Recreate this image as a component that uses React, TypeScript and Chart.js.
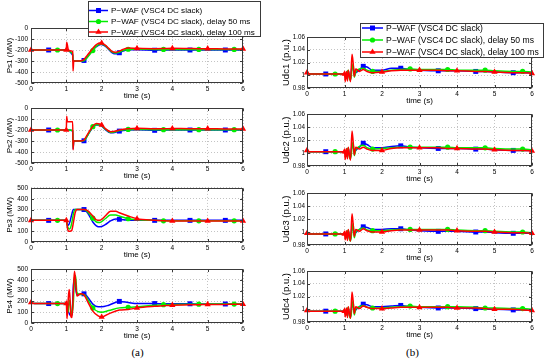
import React, { useEffect, useRef } from 'react';
import { Chart, registerables } from 'chart.js';
Chart.register(...registerables);

const FONT = "'Liberation Sans', Arial, Helvetica, sans-serif";

const SERIES_NAMES = [
  'P\u2212WAF (VSC4 DC slack)',
  'P\u2212WAF (VSC4 DC slack), delay 50 ms',
  'P\u2212WAF (VSC4 DC slack), delay 100 ms',
];
const COLORS = ['#0000ff', '#00ee00', '#ff0000'];
const MARKER_STYLES = ['rect', 'circle', 'triangle'];
const MARKER_RADII = [3.5, 2.6, 3.6];
const BLUE_MARKS = [0.5, 1.5, 2.5, 3.5, 4.5, 5.5];
const GREEN_MARKS = [0.75, 1.75, 2.75, 3.75, 4.75, 5.75];
const RED_MARKS = [0, 1, 2, 3, 4, 5, 6];
const MARK_TIMES = [BLUE_MARKS, GREEN_MARKS, RED_MARKS];

const X_TICKS = [0, 1, 2, 3, 4, 5, 6];
const PS_NEG_TICKS = [-500, -400, -300, -200, -100, 0];
const PS_POS_TICKS = [0, 100, 200, 300, 400, 500];
const UDC_TICKS = [0.98, 1.0, 1.02, 1.04, 1.06];

// ---- Ps1 ----
const PS1_T = [0, 0.5, 0.75, 1.0, 1.01, 1.05, 1.1, 1.15, 1.18, 1.19, 1.21, 1.3, 1.45, 1.5, 1.6, 1.75, 1.85, 1.97, 2.0, 2.1, 2.2, 2.3, 2.4, 2.5, 2.6, 2.75, 3.0, 3.5, 3.75, 4.0, 4.5, 4.75, 5.0, 5.5, 5.75, 6.0];
const PS1_BLUE = [-200, -200, -200, -200, -200, -205, -215, -235, -250, -300, -300, -300, -300, -295, -260, -200, -170, -150, -150, -165, -195, -225, -235, -225, -210, -198, -198, -202, -200, -200, -200, -200, -200, -200, -200, -200];
const PS1_GREEN = [-200, -200, -200, -200, -200, -203, -212, -225, -240, -300, -300, -300, -300, -298, -265, -205, -165, -145, -147, -160, -190, -220, -228, -220, -205, -193, -193, -195, -195, -195, -195, -195, -195, -195, -195, -195];
const PS1_RED = [-200, -200, -200, -200, -130, -190, -205, -210, -215, -390, -300, -300, -295, -285, -245, -185, -150, -135, -137, -155, -185, -215, -220, -210, -195, -182, -185, -188, -187, -185, -187, -188, -188, -190, -190, -190];

// ---- Ps2 ----
const PS2_T = [0, 0.5, 0.75, 1.0, 1.01, 1.03, 1.1, 1.15, 1.18, 1.19, 1.21, 1.3, 1.45, 1.5, 1.6, 1.75, 1.85, 1.95, 2.0, 2.1, 2.25, 2.4, 2.5, 2.75, 3.0, 3.5, 3.75, 4.0, 4.5, 4.75, 5.0, 5.5, 5.75, 6.0];
const PS2_BLUE = [-200, -200, -200, -200, -200, -200, -200, -205, -215, -370, -300, -300, -300, -298, -250, -175, -155, -155, -165, -195, -225, -220, -210, -200, -198, -203, -200, -200, -200, -200, -200, -200, -200, -200];
const PS2_GREEN = [-200, -200, -200, -200, -200, -200, -200, -203, -210, -360, -300, -300, -300, -297, -250, -170, -152, -152, -160, -190, -222, -215, -205, -195, -195, -197, -197, -197, -197, -197, -197, -197, -197, -197];
const PS2_RED = [-200, -200, -200, -200, -75, -125, -125, -125, -125, -380, -300, -300, -298, -290, -240, -165, -142, -145, -155, -185, -215, -210, -200, -188, -185, -188, -188, -187, -188, -188, -188, -190, -190, -190];

// ---- Ps3 ----
const PS3_T = [0, 0.5, 0.75, 1.0, 1.03, 1.06, 1.1, 1.15, 1.2, 1.25, 1.3, 1.4, 1.5, 1.6, 1.75, 1.85, 1.95, 2.1, 2.25, 2.4, 2.5, 2.75, 3.0, 3.5, 3.75, 4.0, 4.5, 4.75, 5.0, 5.5, 5.75, 6.0];
const PS3_BLUE = [200, 200, 200, 200, 165, 155, 185, 250, 300, 300, 300, 300, 300, 270, 185, 150, 140, 160, 195, 212, 210, 202, 200, 200, 200, 200, 200, 200, 200, 200, 200, 200];
const PS3_GREEN = [200, 200, 200, 200, 150, 125, 120, 170, 260, 300, 300, 300, 300, 280, 220, 185, 180, 215, 250, 250, 240, 215, 205, 200, 196, 196, 196, 196, 196, 196, 196, 196];
const PS3_RED = [200, 200, 200, 200, 130, 100, 100, 105, 180, 270, 300, 300, 300, 290, 240, 205, 200, 240, 285, 285, 270, 240, 215, 200, 196, 194, 194, 194, 194, 194, 194, 194];

// ---- Ps4 ----
const PS4_T = [0, 0.1, 0.5, 0.75, 1.0, 1.02, 1.05, 1.08, 1.1, 1.13, 1.16, 1.2, 1.23, 1.26, 1.3, 1.4, 1.5, 1.6, 1.75, 1.9, 2.0, 2.2, 2.5, 2.75, 3.0, 3.5, 3.75, 4.0, 4.5, 4.75, 5.0, 5.5, 5.75, 6.0];
const PS4_BLUE = [190, 180, 180, 180, 180, 150, 110, 90, 75, 70, 75, 350, 410, 330, 260, 265, 270, 240, 175, 150, 150, 165, 200, 190, 180, 180, 178, 178, 178, 176, 176, 176, 175, 175];
const PS4_GREEN = [190, 180, 180, 180, 180, 130, 100, 200, 210, 120, 80, 200, 420, 440, 280, 265, 265, 220, 140, 105, 100, 115, 140, 145, 150, 165, 170, 172, 174, 174, 175, 175, 175, 175];
const PS4_RED = [190, 180, 180, 180, 180, 40, 200, 310, 250, 60, 50, 300, 480, 400, 250, 270, 260, 200, 110, 65, 55, 85, 120, 125, 140, 155, 160, 165, 170, 170, 172, 172, 173, 173];

// ---- Udc (shared time base) ----
const UDC_T = [0, 0.05, 0.5, 0.75, 1.0, 1.02, 1.05, 1.08, 1.1, 1.13, 1.16, 1.2, 1.23, 1.26, 1.3, 1.4, 1.5, 1.6, 1.75, 2.0, 2.25, 2.5, 2.75, 3.0, 3.5, 3.75, 4.0, 4.5, 4.75, 5.0, 5.5, 5.75, 6.0];
const UDC1_BLUE = [1.004, 1.002, 1.002, 1.002, 1.002, 1.000, 0.997, 1.004, 1.007, 0.997, 0.994, 1.015, 1.013, 1.001, 1.004, 1.008, 1.014, 1.013, 1.008, 1.008, 1.011, 1.011, 1.009, 1.008, 1.007, 1.007, 1.007, 1.006, 1.006, 1.005, 1.004, 1.004, 1.004];
const UDC1_GREEN = [1.004, 1.002, 1.002, 1.002, 1.002, 1.000, 0.996, 1.005, 1.008, 0.995, 0.992, 1.010, 1.018, 0.997, 1.005, 1.010, 1.011, 1.008, 1.006, 1.006, 1.008, 1.009, 1.010, 1.009, 1.009, 1.009, 1.008, 1.008, 1.008, 1.007, 1.006, 1.006, 1.005];
const UDC1_RED = [1.004, 1.002, 1.002, 1.002, 1.002, 0.990, 1.006, 0.991, 1.008, 0.999, 0.990, 1.033, 1.020, 0.998, 1.010, 1.006, 1.009, 1.006, 1.004, 1.005, 1.007, 1.008, 1.008, 1.008, 1.008, 1.007, 1.007, 1.006, 1.006, 1.005, 1.004, 1.004, 1.003];
const UDC2_BLUE = [1.004, 1.002, 1.002, 1.002, 1.002, 1.000, 0.996, 1.005, 1.007, 0.996, 0.993, 1.014, 1.012, 1.001, 1.004, 1.009, 1.015, 1.013, 1.008, 1.008, 1.010, 1.011, 1.009, 1.008, 1.007, 1.007, 1.007, 1.006, 1.006, 1.005, 1.004, 1.004, 1.004];
const UDC2_GREEN = [1.004, 1.002, 1.002, 1.002, 1.002, 1.000, 0.995, 1.005, 1.008, 0.994, 0.991, 1.008, 1.017, 0.996, 1.005, 1.010, 1.012, 1.008, 1.006, 1.007, 1.008, 1.009, 1.009, 1.009, 1.009, 1.009, 1.008, 1.008, 1.008, 1.007, 1.006, 1.006, 1.005];
const UDC2_RED = [1.004, 1.002, 1.002, 1.002, 1.002, 0.990, 1.007, 0.991, 1.009, 0.998, 0.989, 1.034, 1.018, 0.997, 1.009, 1.006, 1.009, 1.006, 1.004, 1.004, 1.007, 1.008, 1.008, 1.008, 1.008, 1.007, 1.007, 1.006, 1.006, 1.005, 1.004, 1.004, 1.003];
const UDC3_BLUE = [0.998, 0.997, 0.997, 0.997, 0.997, 0.996, 0.992, 0.999, 1.002, 0.991, 0.988, 1.008, 1.006, 0.996, 0.999, 1.004, 1.008, 1.007, 1.004, 1.004, 1.005, 1.005, 1.003, 1.002, 1.001, 1.001, 1.001, 1.000, 1.000, 0.999, 0.998, 0.998, 0.998];
const UDC3_GREEN = [0.998, 0.997, 0.997, 0.997, 0.997, 0.996, 0.991, 1.000, 1.003, 0.990, 0.986, 1.003, 1.013, 0.991, 1.000, 1.004, 1.006, 1.003, 1.002, 1.002, 1.003, 1.004, 1.004, 1.004, 1.004, 1.004, 1.003, 1.002, 1.002, 1.001, 1.000, 1.000, 0.999];
const UDC3_RED = [0.998, 0.997, 0.997, 0.997, 0.997, 0.988, 1.002, 0.987, 1.004, 0.994, 0.986, 1.028, 1.013, 0.993, 1.004, 1.001, 1.005, 1.002, 1.000, 1.000, 1.002, 1.003, 1.003, 1.003, 1.003, 1.003, 1.002, 1.001, 1.001, 1.000, 0.999, 0.999, 0.998];
const UDC4_BLUE = [0.998, 0.997, 0.997, 0.997, 0.997, 0.996, 0.992, 0.999, 1.001, 0.991, 0.988, 1.008, 1.006, 0.996, 0.999, 1.004, 1.008, 1.007, 1.004, 1.004, 1.005, 1.006, 1.004, 1.003, 1.002, 1.002, 1.002, 1.001, 1.000, 1.000, 0.999, 0.999, 0.999];
const UDC4_GREEN = [0.998, 0.997, 0.997, 0.997, 0.997, 0.996, 0.991, 1.000, 1.003, 0.990, 0.986, 1.004, 1.013, 0.991, 1.000, 1.004, 1.006, 1.003, 1.002, 1.002, 1.003, 1.004, 1.005, 1.004, 1.004, 1.004, 1.004, 1.003, 1.002, 1.002, 1.001, 1.001, 1.000];
const UDC4_RED = [0.998, 0.997, 0.997, 0.997, 0.997, 0.988, 1.002, 0.987, 1.004, 0.994, 0.986, 1.027, 1.013, 0.993, 1.004, 1.001, 1.005, 1.003, 1.001, 1.001, 1.002, 1.003, 1.003, 1.003, 1.003, 1.003, 1.002, 1.002, 1.001, 1.000, 1.000, 0.999, 0.998];

const X_TITLE = 'time (s)';
const X_AXIS_H = 18;

const LEFT_COL = { left: 0, w: 275, pl: 31, pr: 243, yTitleSize: 8, yTitlePad: 5, yTickPad: 3, yTickSize: 6.5 };
const RIGHT_COL = { left: 275, w: 275, pl: 307, pr: 532, yTitleSize: 9.5, yTitlePad: 5.5, yTickPad: 2, yTickSize: 6.3 };

const LEFT_LEGEND = { x: 88, y: 1, w: 172, h: 35, rows: [9.5, 20.5, 31], lineX0: 1, lineX1: 20, textX: 23, fontSize: 8.1 };
const RIGHT_LEGEND = { x: 85, y: 23, w: 183, h: 34, rows: [5, 17, 29], lineX0: 2, lineX1: 23, textX: 26, fontSize: 8.6 };

type PanelDef = {
  left: number; w: number; pl: number; pr: number; yTitleSize: number; yTitlePad: number; yTickPad: number; yTickSize: number;
  top: number; h: number; pt: number; pb: number;
  T: number[]; series: number[][]; yTicks: number[]; yTitle: string; legend?: any;
};

const PANELS: PanelDef[] = [
  { ...LEFT_COL, top: 0, h: 101, pt: 28, pb: 83, T: PS1_T, series: [PS1_BLUE, PS1_GREEN, PS1_RED], yTicks: PS_NEG_TICKS, yTitle: 'Ps1 (MW)', legend: LEFT_LEGEND },
  { ...LEFT_COL, top: 101, h: 80, pt: 108, pb: 163, T: PS2_T, series: [PS2_BLUE, PS2_GREEN, PS2_RED], yTicks: PS_NEG_TICKS, yTitle: 'Ps2 (MW)' },
  { ...LEFT_COL, top: 181, h: 81, pt: 187, pb: 242, T: PS3_T, series: [PS3_BLUE, PS3_GREEN, PS3_RED], yTicks: PS_POS_TICKS, yTitle: 'Ps3 (MW)' },
  { ...LEFT_COL, top: 262, h: 80, pt: 269, pb: 323, T: PS4_T, series: [PS4_BLUE, PS4_GREEN, PS4_RED], yTicks: PS_POS_TICKS, yTitle: 'Ps4 (MW)' },
  { ...RIGHT_COL, top: 0, h: 106, pt: 37, pb: 88, T: UDC_T, series: [UDC1_BLUE, UDC1_GREEN, UDC1_RED], yTicks: UDC_TICKS, yTitle: 'Udc1 (p.u.)', legend: RIGHT_LEGEND },
  { ...RIGHT_COL, top: 106, h: 79, pt: 114, pb: 166, T: UDC_T, series: [UDC2_BLUE, UDC2_GREEN, UDC2_RED], yTicks: UDC_TICKS, yTitle: 'Udc2 (p.u.)' },
  { ...RIGHT_COL, top: 185, h: 79, pt: 193, pb: 245, T: UDC_T, series: [UDC3_BLUE, UDC3_GREEN, UDC3_RED], yTicks: UDC_TICKS, yTitle: 'Udc3 (p.u.)' },
  { ...RIGHT_COL, top: 264, h: 80, pt: 271, pb: 322, T: UDC_T, series: [UDC4_BLUE, UDC4_GREEN, UDC4_RED], yTicks: UDC_TICKS, yTitle: 'Udc4 (p.u.)' },
];

function drawMarker(ctx: CanvasRenderingContext2D, style: string, x: number, y: number, r: number) {
  ctx.beginPath();
  if (style === 'rect') {
    const s = Math.SQRT1_2 * r;
    ctx.rect(x - s, y - s, 2 * s, 2 * s);
  } else if (style === 'circle') {
    ctx.arc(x, y, r, 0, Math.PI * 2);
  } else {
    let rad = 0;
    ctx.moveTo(x + Math.sin(rad) * r, y - Math.cos(rad) * r);
    rad += (2 * Math.PI) / 3;
    ctx.lineTo(x + Math.sin(rad) * r, y - Math.cos(rad) * r);
    rad += (2 * Math.PI) / 3;
    ctx.lineTo(x + Math.sin(rad) * r, y - Math.cos(rad) * r);
    ctx.closePath();
  }
  ctx.fill();
}

const framePlugin = {
  id: 'frameBox',
  afterDatasetsDraw(chart: any) {
    const { ctx, chartArea: a, scales } = chart;
    ctx.save();
    ctx.strokeStyle = '#3a3a3a';
    ctx.lineWidth = 1;
    const L = Math.round(a.left) + 0.5;
    const R = Math.round(a.right) - 0.5;
    const T = Math.round(a.top) + 0.5;
    const B = Math.round(a.bottom) - 0.5;
    ctx.strokeRect(L, T, R - L, B - T);
    ctx.beginPath();
    scales.x.ticks.forEach((t: any) => {
      const px = Math.round(scales.x.getPixelForValue(t.value)) + 0.5;
      ctx.moveTo(px, B); ctx.lineTo(px, B - 2.5);
      ctx.moveTo(px, T); ctx.lineTo(px, T + 2.5);
    });
    scales.y.ticks.forEach((t: any) => {
      const py = Math.round(scales.y.getPixelForValue(t.value)) + 0.5;
      ctx.moveTo(L, py); ctx.lineTo(L + 2.5, py);
      ctx.moveTo(R, py); ctx.lineTo(R - 2.5, py);
    });
    ctx.stroke();
    ctx.restore();
  },
};

const legendPlugin = {
  id: 'boxLegend',
  afterDraw(chart: any, _args: any, opts: any) {
    if (!opts || !opts.show) return;
    const ctx = chart.ctx as CanvasRenderingContext2D;
    ctx.save();
    ctx.fillStyle = '#ffffff';
    ctx.fillRect(opts.x, opts.y, opts.w, opts.h);
    ctx.strokeStyle = '#3a3a3a';
    ctx.lineWidth = 1;
    ctx.strokeRect(opts.x + 0.5, opts.y + 0.5, opts.w, opts.h);
    ctx.font = `${opts.fontSize}px ${FONT}`;
    ctx.textBaseline = 'middle';
    ctx.textAlign = 'left';
    SERIES_NAMES.forEach((name, i) => {
      const y = opts.y + opts.rows[i];
      ctx.strokeStyle = COLORS[i];
      ctx.lineWidth = 1.5;
      ctx.beginPath();
      ctx.moveTo(opts.x + opts.lineX0, y);
      ctx.lineTo(opts.x + opts.lineX1, y);
      ctx.stroke();
      ctx.fillStyle = COLORS[i];
      drawMarker(ctx, MARKER_STYLES[i], opts.x + (opts.lineX0 + opts.lineX1) / 2, y, MARKER_RADII[i]);
      ctx.fillStyle = '#000';
      ctx.fillText(name, opts.x + opts.textX, y + 0.5);
    });
    ctx.restore();
  },
};

const fmtTick = (v: number) => String(Number(Number(v).toFixed(2)));

function PanelChart({ p }: { p: PanelDef }) {
  const ref = useRef<HTMLCanvasElement>(null);
  useEffect(() => {
    const canvas = ref.current;
    if (!canvas) return;
    const datasets = p.series.map((vals, i) => ({
      label: SERIES_NAMES[i],
      data: p.T.map((t, k) => ({ x: t, y: vals[k] })),
      borderColor: COLORS[i],
      backgroundColor: COLORS[i],
      borderWidth: 1.5,
      pointStyle: MARKER_STYLES[i],
      pointRadius: (c: any) => (c.raw && MARK_TIMES[i].includes(c.raw.x) ? MARKER_RADII[i] : 0),
      pointBorderWidth: 0,
      pointBackgroundColor: COLORS[i],
      cubicInterpolationMode: 'monotone',
      order: 3 - i,
      clip: false,
    }));
    const yMin = p.yTicks[0];
    const yMax = p.yTicks[p.yTicks.length - 1];
    const chart = new Chart(canvas, {
      type: 'line',
      data: { datasets } as any,
      plugins: [framePlugin, legendPlugin],
      options: {
        animation: false,
        responsive: false,
        maintainAspectRatio: false,
        layout: {
          padding: {
            left: 0,
            top: p.pt - p.top,
            right: p.left + p.w - p.pr,
            bottom: p.top + p.h - p.pb - X_AXIS_H,
          },
        },
        plugins: {
          legend: { display: false },
          tooltip: { enabled: false },
          boxLegend: p.legend ? { show: true, ...p.legend } : { show: false },
        } as any,
        scales: {
          x: {
            type: 'linear',
            min: 0,
            max: 6,
            afterBuildTicks: (s: any) => { s.ticks = X_TICKS.map((v) => ({ value: v })); },
            afterFit: (s: any) => { s.height = X_AXIS_H; },
            ticks: { font: { size: 6.5, family: FONT }, color: '#000', padding: 2, maxRotation: 0, autoSkip: false, callback: (v: any) => fmtTick(v) },
            grid: { color: '#c4c4c4', lineWidth: 1, drawTicks: false },
            border: { display: false, dash: [1, 2] },
            title: { display: true, text: X_TITLE, font: { size: 8, family: FONT }, color: '#000', padding: 0 },
          },
          y: {
            type: 'linear',
            min: yMin,
            max: yMax,
            afterBuildTicks: (s: any) => { s.ticks = p.yTicks.map((v) => ({ value: v })); },
            afterFit: (s: any) => { s.width = p.pl - p.left; },
            ticks: { font: { size: p.yTickSize, family: FONT }, color: '#000', padding: p.yTickPad, autoSkip: false, callback: (v: any) => fmtTick(v) },
            grid: { color: '#c4c4c4', lineWidth: 1, drawTicks: false },
            border: { display: false, dash: [1, 2] },
            title: { display: true, text: p.yTitle, font: { size: p.yTitleSize, family: FONT }, color: '#000', padding: { top: p.yTitlePad, bottom: 0 } },
          },
        },
      } as any,
    });
    return () => chart.destroy();
  }, [p]);
  return (
    <canvas
      ref={ref}
      width={p.w}
      height={p.h}
      style={{ position: 'absolute', left: p.left, top: p.top, width: p.w, height: p.h }}
    />
  );
}

export default function App() {
  return (
    <div style={{ position: 'absolute', left: 0, top: 0, width: 550, height: 362, background: '#fff', overflow: 'hidden' }}>
      {PANELS.map((p, i) => (
        <PanelChart key={i} p={p} />
      ))}
      <div style={{ position: 'absolute', left: 0, top: 345, width: 275, textAlign: 'center', font: "11px 'Liberation Serif', serif", lineHeight: '14px', color: '#000' }}>(a)</div>
      <div style={{ position: 'absolute', left: 275, top: 345, width: 275, textAlign: 'center', font: "11px 'Liberation Serif', serif", lineHeight: '14px', color: '#000' }}>(b)</div>
    </div>
  );
}
